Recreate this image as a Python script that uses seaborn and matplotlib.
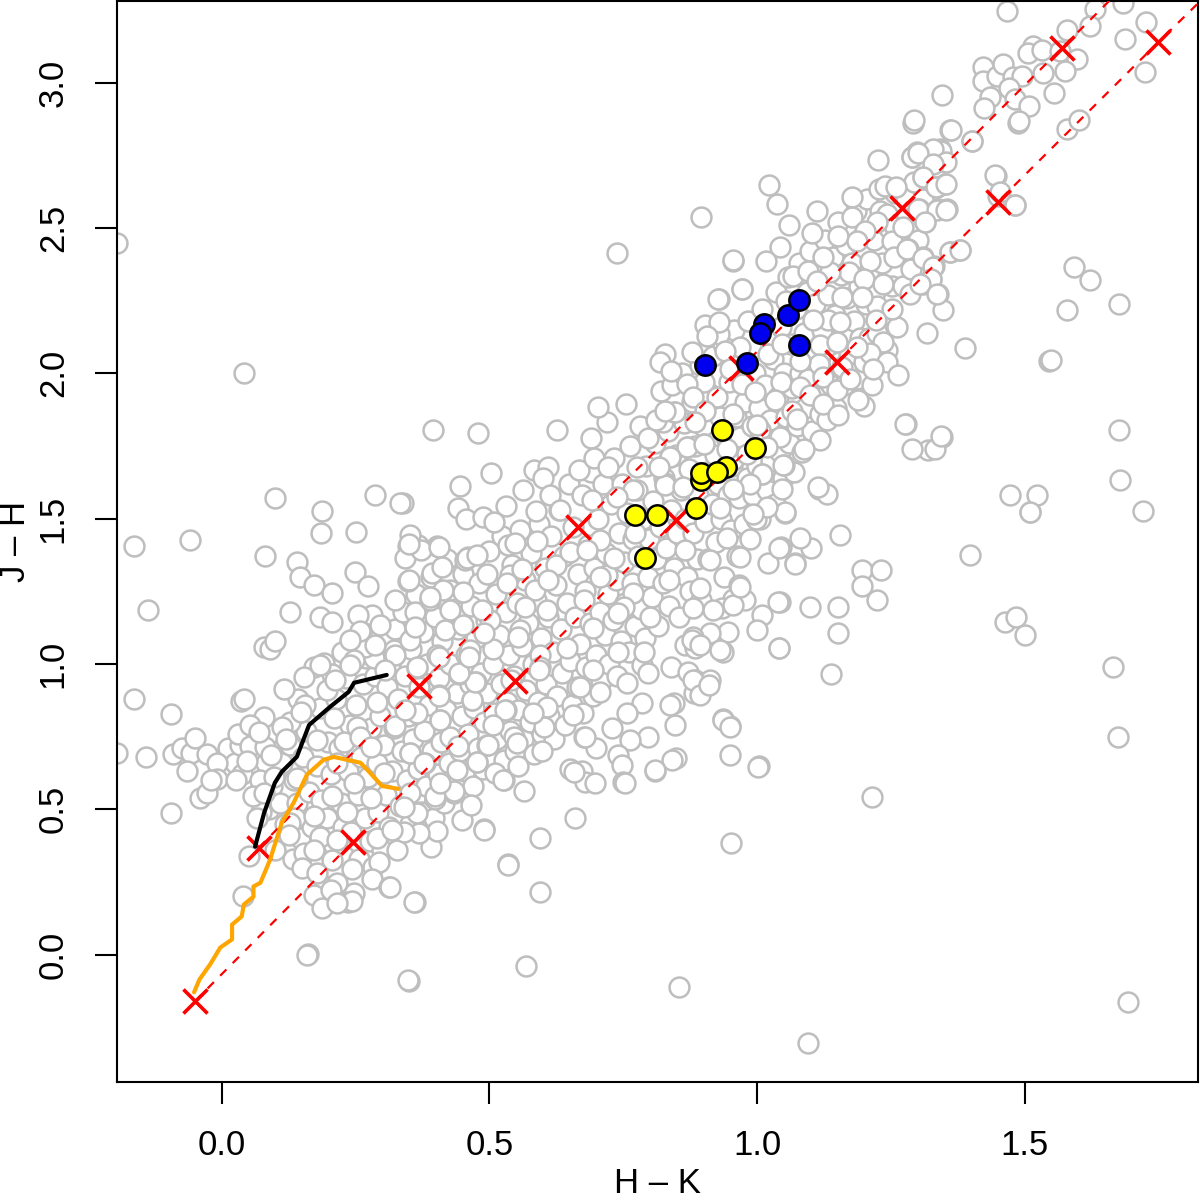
import matplotlib
matplotlib.use("Agg")
import matplotlib.pyplot as plt
import pandas as pd
import seaborn as sns

# Grey field stars (H-K, J-H)
dense_fill = [
(.012,.71),(.024,.66),(.037,.62),(.061,.74),(.083,.66),(.094,.58),(.071,.60),(.105,.70),(.033,.72),(.088,.50),(.074,.49),
(.108,.52),(.118,.45),(.113,.66),(.127,.72),(.134,.60),(.141,.52),(.146,.40),(.132,.33),(.151,.68),(.158,.77),(.163,.56),
(.168,.44),(.174,.31),(.178,.65),(.183,.85),(.186,.53),(.192,.24),(.196,.47),(.199,.73),(.143,.88),(.128,.80),(.136,.47),
(.203,.62),(.207,.38),(.211,.29),(.214,.88),(.219,.71),(.222,.52),(.226,.44),(.229,.34),(.231,.95),(.236,.63),(.239,.79),
(.242,.42),(.246,.21),(.25,.86),(.254,.55),(.257,.33),(.26,.68),(.263,.93),(.267,.47),(.27,1.02),(.273,.61),(.276,.39),
(.279,.78),(.282,.30),(.286,.96),(.289,.66),(.292,.49),(.296,.82),(.299,.36),(.225,1.04),(.262,1.12),(.28,1.17),(.235,.18),
(.303,.72),(.306,.55),(.309,.92),(.312,.44),(.315,1.00),(.318,.63),(.321,.78),(.324,1.12),(.327,.36),(.33,.88),(.333,.51),
(.336,.70),(.339,1.18),(.342,.96),(.345,.60),(.348,.82),(.351,.45),(.354,1.05),(.357,.74),(.36,.54),(.363,1.24),(.366,.64),
(.369,.92),(.372,.49),(.375,1.11),(.378,.77),(.381,.58),(.384,1.00),(.387,.86),(.39,1.30),(.393,.70),(.396,.47),(.399,1.16),
(.403,.62),(.406,.95),(.409,.73),(.412,1.08),(.415,.52),(.418,.84),(.421,1.36),(.424,.66),(.427,1.0),(.43,.78),(.433,1.24),
(.436,.59),(.439,.90),(.442,1.12),(.445,.70),(.448,.82),(.451,1.31),(.454,.63),(.457,1.03),(.46,.76),(.463,.93),(.466,1.2),
(.469,.58),(.472,.85),(.475,1.09),(.478,.71),(.481,1.28),(.484,.97),(.487,.64),(.49,.80),(.493,1.15),(.496,.90),(.499,1.39),
(.503,.68),(.506,1.0),(.509,.83),(.512,1.24),(.515,.74),(.518,1.10),(.521,.93),(.524,1.44),(.527,.67),(.53,1.18),(.533,.87),
(.536,1.03),(.539,.77),(.542,1.34),(.545,.96),(.548,.70),(.551,1.21),(.554,.84),(.557,1.46),(.56,1.06),(.563,.74),(.566,1.29),
(.569,.91),(.572,1.14),(.575,.80),(.578,1.38),(.581,1.0),(.584,.69),(.587,1.22),(.59,.87),(.593,1.48),(.596,1.09),(.599,.76),
(.603,1.33),(.606,.93),(.609,1.16),(.612,.82),(.615,1.44),(.618,1.04),(.621,.74),(.624,1.27),(.627,.89),(.63,1.53),(.633,1.12),
(.636,.97),(.639,1.37),(.642,.79),(.645,1.21),(.648,1.62),(.651,1.01),(.654,.86),(.657,1.47),(.66,1.16),(.663,.92),(.666,1.31),
(.669,1.07),(.672,1.58),(.675,.83),(.678,1.25),(.681,.99),(.684,1.41),(.687,1.14),(.69,1.66),(.693,.89),(.696,1.33),(.699,1.03),
(.703,1.50),(.706,1.18),(.709,.94),(.712,1.62),(.715,1.10),(.718,1.38),(.721,1.24),(.724,1.0),(.727,1.55),(.73,1.15),(.733,1.71),
(.736,1.29),(.739,.96),(.742,1.45),(.745,1.08),(.748,1.62),(.751,1.35),(.754,1.21),(.757,1.52),(.76,1.04),(.763,1.75),(.766,1.28),
(.769,1.43),(.772,1.13),(.775,1.60),(.778,1.37),(.781,1.82),(.784,1.19),(.787,1.50),(.79,1.09),(.793,1.68),(.796,1.30),(.799,1.43),
(.803,1.23),(.806,1.56),(.809,1.76),(.812,1.36),(.815,1.13),(.818,1.47),(.821,1.94),(.824,1.28),(.827,1.64),(.83,1.40),(.833,1.80),
(.836,1.20),(.839,1.53),(.842,1.96),(.845,1.33),(.848,1.72),(.851,1.45),(.854,1.16),(.857,1.60),(.86,2.0),(.863,1.83),(.866,1.50),
(.869,1.30),(.872,1.67),(.875,1.25),(.878,1.90),(.881,1.45),(.884,1.75),(.887,1.36),(.89,1.58),(.893,2.03),(.896,1.22),(.899,1.82),
(.903,1.49),(.906,1.66),(.909,1.36),(.912,1.93),(.915,1.55),(.918,2.06),(.921,1.72),(.924,1.42),(.927,1.62),(.93,1.85),(.933,1.50),
(.936,2.10),(.939,1.30),(.942,1.78),(.945,1.58),(.948,1.97),(.951,1.46),(.954,1.68),(.957,2.15),(.96,1.85),(.963,1.37),(.966,1.57),
(.969,1.78),(.972,2.05),(.975,1.48),(.978,1.90),(.981,1.64),(.984,2.18),(.987,1.43),(.99,1.82),(.993,1.58),(.996,2.0),(.999,1.68),
(1.003,1.88),(1.006,1.50),(1.009,2.22),(1.012,1.76),(1.015,1.96),(1.018,1.60),(1.021,2.12),(1.024,1.84),(1.027,1.70),(1.03,2.05),
(1.033,1.55),(1.036,2.28),(1.039,1.92),(1.042,1.73),(1.045,2.16),(1.048,1.64),(1.051,2.0),(1.054,1.85),(1.057,2.33),(1.06,1.76),
(1.063,2.10),(1.066,1.95),(1.069,1.66),(1.072,2.22),(1.075,1.82),(1.078,2.38),(1.081,2.0),(1.084,1.73),(1.087,2.14),(1.09,1.88),
(1.093,2.28),(1.096,1.98),(1.099,2.42),(1.103,1.80),(1.106,2.08),(1.109,2.24),(1.112,1.92),(1.115,2.36),(1.118,1.86),(1.121,2.15),
(1.124,2.0),(1.127,2.46),(1.13,1.84),(1.133,2.27),(1.136,2.08),(1.139,1.96),(1.142,2.40),(1.145,2.2),(1.148,1.88),(1.151,2.52),
(1.154,2.04),(1.157,2.34),(1.16,2.14),(1.163,1.96),(1.166,2.44),(1.169,2.26),(1.172,2.06),(1.175,2.0),(1.178,2.38),(1.181,2.18),
(1.184,2.56),(1.187,1.98),(1.19,2.30),(1.193,2.12),(1.196,2.47),(1.199,2.04),(1.203,2.24),(1.206,2.60),(1.209,2.12),(1.212,2.36),
(1.215,1.96),(1.218,2.46),(1.221,2.28),(1.225,2.14),(1.23,2.56),(1.234,2.38),(1.238,2.20),(1.243,2.08),(1.247,2.50),(1.252,2.30),
(1.257,2.62),(1.262,2.16),(1.268,2.42),(1.273,2.30),(1.278,2.60),(1.283,2.50),(1.288,2.36),(1.294,2.66),(1.3,2.46),(1.31,2.60),
]
lower_cloud = [
(-.196,.695),(-.165,.878),(-.141,.679),(-.095,.827),(-.096,.486),(.035,.874),(.041,.878),(.078,1.059),(.09,1.053),
(-.091,.689),(-.074,.71),(-.058,.695),(-.051,.746),(-.027,.689),(-.009,.66),(-.066,.63),(-.009,.603),(.027,.599),
(-.04,.538),(-.028,.555),(-.02,.6),(.03,.758),(.052,.718),(.046,.667),(.078,.816),(.053,.79),(.081,.715),(.092,.687),
(.112,.784),(.119,.741),(.069,.767),(.097,.612),(.058,.544),(.078,.555),(.066,.469),(.05,.34),(.1,.36),(.039,.203),
(.116,.914),(.172,.99),(.19,1.004),(.206,.967),(.153,.954),(.156,.858),(.147,.836),(.209,.813),(.197,.91),(.178,.738),
(.228,.733),(.253,.784),(.29,.87),(.259,.75),(.14,.607),(.215,.658),(.172,.475),(.128,.452),(.234,.492),(.206,.544),
(.278,.538),(.246,.59),(.184,.406),(.215,.395),(.125,.412),(.153,.349),(.172,.36),(.293,.32),(.29,.4),(.206,.326),
(.243,.295),(.15,.297),(.178,.28),(.215,.246),(.28,.26),(.313,.234),(.172,.206),(.203,.223),(.243,.183),(.187,.16),
(.215,.177),(.16,.002),(.349,-.09),(.36,.18),(.39,.37),(.489,.433),(.535,.312),(.448,.463),(.465,.515),(.402,.426),
(.368,.418),(.34,.423),(.318,.429),(.365,.486),(.399,.534),(.433,.555),(.352,.555),(.34,.509),(.44,.635),(.477,.664),
(.527,.601),(.511,.624),(.496,.721),(.427,.75),(.408,.807),(.474,.939),(.468,.876),(.443,.967),(.461,1.03),(.53,.841),
(.402,1.03),(.365,.985),(.321,1.048),(.284,1.019),(.268,1.059),(.246,1.013),(.365,.83),(.324,.786),(.352,.692),
(.405,.893),(.38,.658),(.302,.624),(.278,.715),(.54,.945),(.545,.75),
]
middle_band = [
(.249,1.316),(.273,1.268),(.254,1.168),(.258,1.113),(.295,1.134),(.286,1.065),(.239,1.082),(.323,1.22),(.348,1.285),
(.348,1.405),(.342,1.364),(.366,1.409),(.402,1.405),(.393,1.313),(.361,1.179),(.351,1.082),(.389,1.22),(.323,1.031),
(.305,.979),(.239,.997),(.211,.945),(.183,.997),(.426,1.254),(.454,1.357),(.46,1.368),(.417,1.117),(.464,1.048),
(.501,1.151),(.538,1.306),(.585,1.254),(.557,1.117),(.594,1.031),
(.394,1.804),(.478,1.796),(.627,1.804),(.719,1.833),(.702,1.884),(.755,1.893),(.689,1.778),(.502,1.658),(.445,1.611),
(.584,1.669),(.61,1.678),(.6,1.641),(.668,1.669),(.696,1.71),(.722,1.678),(.775,1.678),(.797,1.779),(.838,1.712),
(.825,1.833),(.844,1.867),(.869,1.747),(.9,1.758),(.956,1.701),(1.006,1.804),(1.05,1.684),(1.009,1.655),(.562,1.6),
(.613,1.581),(.531,1.544),(.442,1.535),(.456,1.5),(.487,1.506),(.509,1.489),(.587,1.526),(.632,1.529),(.339,1.554),
(.691,1.563),(.769,1.598),(.828,1.621),(.738,1.575),(.352,1.443),(.372,1.391),(.406,1.403),(.349,1.414),(.458,1.363),
(.476,1.374),(.535,1.409),(.548,1.415),(.588,1.422),(.625,1.34),(.56,1.328),(.495,1.311),(.411,1.334),(.35,1.288),
(.414,1.254),(.451,1.248),(.388,1.231),(.426,1.185),(.486,1.185),(.532,1.277),(.61,1.288),(.651,1.386),(.707,1.426),
(.719,1.306),(.772,1.449),(.866,1.392),(.835,1.288),(.769,1.243),(.676,1.22),(.607,1.185),(.567,1.197),(.752,1.197),
(.894,1.26),(.956,1.225),(.967,1.271),(.912,1.357),(.944,1.432),(.969,1.369),(1.021,1.346),(1.045,1.403),(1.071,1.346),
(1.053,1.518),(.998,1.5),(1.043,1.214),(.881,1.191),(.934,1.191),(1.009,1.168),(.999,1.117),(.945,1.111),(.912,1.105),
(.881,1.091),(.866,1.065),(.884,1.054),(.937,1.042),(1.041,1.056),(.839,.991),(.871,.973),(.884,.945),(.909,.928),
(.883,.899),(.844,.865),(.785,.865),(.847,.79),(.936,.81),(.95,.787),(.797,.75),(.763,.739),(.729,.779),(.676,.75),
(.699,.71),(.741,.687),(.849,.676),(1.004,.649),(.81,.633),(.747,.653),(.75,.595),(.673,.63),(.65,.638),(.679,.595),
(.564,.561),(.598,.7),(.551,.727),(.498,.721),(.442,.716),(.352,.693),(.398,.544),(.433,.561),(.526,.601),(.554,.647),
(.476,.664),(.408,.59),(.377,.658),(.785,.996),(.797,.968),(.741,1.042),(.788,1.042),(.694,1.122),(.645,1.054),
(.595,.991),(.669,.922),(.707,.905),(.757,.933),(.607,.853),(.757,.83),(.601,.784),(.657,.824),(.529,.842),(.507,.79),
(.582,.83),(.467,.876),(.408,.807),(.342,.842),(.405,.888),(.473,.939),(.444,.968),(.364,.991),(.461,1.025),(.507,1.05),
(.554,1.094),(.405,1.025),(.361,1.128),(.451,1.134),(.489,1.105),(.694,.979),(.592,.979),(.741,1.174),(.8,1.162),
(.707,1.3),(.732,1.363),(.682,1.391),
]
upper_band = [
(.895,2.539),(1.022,2.648),(1.038,2.583),(1.059,2.512),(1.112,2.557),(1.043,2.436),(1.017,2.388),(.956,2.388),(.971,2.29),
(.928,2.256),(1.068,2.336),(1.102,2.482),(1.152,2.474),(1.177,2.606),(1.177,2.537),(1.226,2.734),(1.289,2.743),
(1.342,2.772),(1.298,2.76),(1.361,2.837),(1.401,2.798),(1.292,2.863),(1.488,2.863),(1.227,2.634),(1.239,2.646),
(1.26,2.64),(1.311,2.677),(1.336,2.642),(1.351,2.651),(1.351,2.726),(1.339,2.565),(1.302,2.565),(1.314,2.52),(1.355,2.565),
(1.242,2.548),(1.447,2.68),(1.451,2.611),(1.482,2.579),(1.258,2.502),(1.224,2.52),(1.202,2.491),(1.186,2.457),(1.252,2.457),
(1.282,2.428),(1.255,2.399),(1.311,2.399),(1.361,2.417),(1.379,2.425),(1.33,2.371),(1.326,2.325),(1.311,2.308),(1.286,2.273),
(1.339,2.273),(1.347,2.218),(1.317,2.138),(1.389,2.087),(1.545,2.044),(1.211,2.388),(1.171,2.348),(1.136,2.348),(1.096,2.353),
(1.124,2.399),(1.199,2.325),(1.236,2.308),(1.158,2.262),(1.224,2.233),(1.252,2.222),(1.112,2.319),(1.196,2.262),(1.133,2.182),
(1.222,2.182),(1.105,2.182),(1.155,2.176),(1.236,2.107),(1.211,2.069),(1.242,2.038),(1.216,2.016),(1.264,1.993),(1.118,2.096),
(1.149,2.107),(1.115,2.033),(1.186,2.09),(1.158,2.021),(1.08,2.044),(1.021,2.067),(1.046,2.102),(1.055,2.25),(.928,2.136),
(.903,2.165),(.928,2.176),(.906,2.13),(.878,2.073),(.828,2.067),(.819,2.039),(.84,2.008),(.968,2.09),(.94,2.078),(.95,2.016),
(.9,1.97),(.869,1.964),(.88,1.92),(.925,1.918),(.971,1.964),(.996,1.935),(1.044,1.97),(1.08,1.953),(1.124,1.987),(1.149,1.941),
(1.174,1.981),(1.099,1.924),(1.065,1.872),(1.034,1.907),(1.123,1.895),(1.152,1.855),(1.199,1.886),(1.189,1.907),(1.278,1.824),
(1.345,1.781),(1.32,1.735),(1.333,1.741),(1.472,1.58),(1.51,1.523),(1.118,1.769),(1.087,1.741),(1.043,1.781),(.999,1.821),
(.956,1.861),(.903,1.872),(.847,1.867),(.812,1.838),(.828,1.872),(.884,1.832),(.869,1.746),(.837,1.712),(.9,1.758),(.943,1.741),
(.981,1.724),(1.049,1.683),(1.009,1.655),(1.046,1.603),(1.115,1.603),(1.13,1.586),(.987,1.62),(.956,1.603),(.931,1.535),
(1.052,1.523),(1.018,1.54),(.993,1.517),(.828,1.615),(.862,1.609),(.816,1.678),(1.018,1.746),(1.074,1.844),
(1.468,3.248),(1.631,3.253),(1.684,3.276),(1.726,3.21),(1.688,3.15),(1.725,3.036),(1.622,3.196),(1.579,3.181),(1.516,3.127),
(1.507,3.104),(1.532,3.112),(1.566,3.11),(1.597,3.082),(1.575,3.041),(1.534,3.032),(1.554,2.964),(1.423,3.053),(1.423,3.007),
(1.448,3.024),(1.46,3.064),(1.479,3.019),(1.496,3.024),(1.47,2.982),(1.435,2.95),(1.425,2.912),(1.482,2.944),(1.509,2.921),
(1.489,2.867),(1.346,2.959),(1.293,2.873),(1.362,2.839),(1.401,2.799),(1.579,2.841),(1.602,2.873),(1.343,2.766),(1.329,2.772),
(1.289,2.744),(1.301,2.757),(1.354,2.726),(1.329,2.721),(1.311,2.675),(1.335,2.64),(1.354,2.652),(1.445,2.684),(1.454,2.623),
(1.482,2.58),(1.301,2.566),(1.337,2.563),(1.354,2.563),(1.314,2.52),(1.273,2.503),(1.281,2.429),(1.311,2.398),(1.36,2.417),
(1.379,2.425),(1.329,2.366),(1.326,2.326),(1.304,2.308),(1.337,2.274),(1.592,2.366),(1.622,2.32),(1.677,2.24),
]
outliers = [
(-.196,2.45),(-.165,1.405),(-.138,1.185),(-.06,1.425),(.041,2.0),(.10,1.57),(.187,1.525),(.185,1.45),(.25,1.455),(.286,1.58),
(.333,1.555),(.08,1.37),(.14,1.35),(.146,1.30),(.172,1.27),(.206,1.245),(.127,1.18),(.183,1.16),(.206,1.145),(.10,1.08),
(.738,2.415),(.955,2.39),(.972,2.29),(.927,2.255),
(1.579,2.217),(1.55,2.045),(1.677,1.805),(1.678,1.632),(1.722,1.526),(1.523,1.581),(1.51,1.522),(1.464,1.144),(1.484,1.162),
(1.501,1.10),(1.398,1.375),(1.665,.99),(1.675,.749),(1.693,-.165),(1.196,1.323),(1.232,1.323),(1.224,1.22),(1.196,1.268),
(1.151,1.196),(1.151,1.107),(1.155,1.443),(1.138,.966),(1.215,.543),(1.29,1.739),(1.344,1.783),(1.277,1.825),
(1.099,1.196),(1.039,1.213),(1.041,1.055),(1.101,1.399),(1.041,1.399),(1.071,1.344),(.978,1.22),(.955,1.203),(.968,1.265),
(1.08,1.433),(1.114,1.608),(1.002,.646),(.949,.687),(.936,.808),(.949,.784),(.912,.945),(.88,.945),(.893,.893),(.91,.928),
(.841,.67),(.837,.859),(.753,.591),(.678,.749),(.658,.629),(.809,.636),(.697,.591),(.951,.385),(.66,.471),(.49,.43),(.594,.402),
(.535,.309),(.594,.216),(.568,-.041),(.854,-.113),(1.095,-.306),(.348,-.089),(.159,.0),(.359,.179),(.314,.234),
(.879,1.082),(.893,1.066),(.931,1.048),(.918,1.186),
]

# Reddening tracks
upper_track_hk = [.069, .368, .665, .97, 1.271, 1.57, 1.75]
upper_track_jh = [.368, .924, 1.47, 2.02, 2.57, 3.12, 3.45]
lower_track_hk = [-.05, .245, .548, .849, 1.15, 1.45, 1.75, 1.85]
lower_track_jh = [-.16, .388, .94, 1.495, 2.04, 2.59, 3.14, 3.32]
cross_hk = [.069, .368, .665, .97, 1.271, 1.57, -.05, .245, .548, .849, 1.15, 1.45, 1.75]
cross_jh = [.368, .924, 1.47, 2.02, 2.57, 3.12, -.16, .388, .94, 1.495, 2.04, 2.59, 3.14]

# Intrinsic loci
black_hk = [.062, .079, .099, .112, .14, .163, .202, .237, .247, .308]
black_jh = [.371, .488, .591, .629, .68, .79, .852, .904, .935, .962]
orange_hk = [-.052, -.042, -.022, -.003, .019, .019, .037, .041, .059, .059, .072, .09, .10, .112, .134, .159, .19, .209, .259, .277, .299, .33]
orange_jh = [-.130, -.086, -.034, .024, .052, .103, .131, .172, .199, .234, .247, .326, .385, .454, .522, .619, .67, .68, .66, .625, .58, .57]

# Highlighted objects
blue_hk = [.903, .981, 1.013, 1.006, 1.058, 1.079, 1.079]
blue_jh = [2.03, 2.034, 2.17, 2.14, 2.20, 2.254, 2.096]
yellow_hk = [.935, .996, .942, .895, .895, .925, .886, .813, .772, .791]
yellow_jh = [1.804, 1.742, 1.677, 1.632, 1.656, 1.66, 1.536, 1.512, 1.512, 1.364]

x_ticks = [0.0, 0.5, 1.0, 1.5]
y_ticks = [0.0, 0.5, 1.0, 1.5, 2.0, 2.5, 3.0]

sns.set_theme(style="white")
plt.rcParams["font.family"] = ["Liberation Sans", "DejaVu Sans"]

gray = pd.DataFrame(dense_fill + lower_cloud + middle_band + upper_band + outliers, columns=["hk", "jh"])

fig = plt.figure(figsize=(12, 12), dpi=100)
ax = fig.add_axes([117 / 1200, (1200 - 1081.5) / 1200, (1198 - 117) / 1200, 1081 / 1200])

sns.scatterplot(data=gray, x="hk", y="jh", ax=ax, s=205, facecolor="white", edgecolor="#bebebe",
                linewidth=1.8, zorder=2, legend=False)
dash = (0, (4, 4))
sns.lineplot(x=upper_track_hk, y=upper_track_jh, ax=ax, color="red", linewidth=1.6, linestyle=dash,
             estimator=None, sort=False, zorder=3, legend=False)
sns.lineplot(x=lower_track_hk, y=lower_track_jh, ax=ax, color="red", linewidth=1.6, linestyle=dash,
             estimator=None, sort=False, zorder=3, legend=False)
sns.scatterplot(x=cross_hk, y=cross_jh, ax=ax, marker="x", color="red", s=300, linewidth=2.6, zorder=4, legend=False)
sns.scatterplot(x=blue_hk, y=blue_jh, ax=ax, s=215, color="#0000ee", edgecolor="black", linewidth=1.8, zorder=5, legend=False)
sns.scatterplot(x=yellow_hk, y=yellow_jh, ax=ax, s=215, color="#ffff00", edgecolor="black", linewidth=1.8, zorder=5, legend=False)
sns.lineplot(x=black_hk, y=black_jh, ax=ax, color="black", linewidth=3, estimator=None, sort=False, zorder=6, legend=False)
sns.lineplot(x=orange_hk, y=orange_jh, ax=ax, color="orange", linewidth=3, estimator=None, sort=False, zorder=6, legend=False)

ax.set_xlim(-0.196, 1.824)
ax.set_ylim(-0.437, 3.283)
ax.set_xticks(x_ticks)
ax.set_yticks(y_ticks)
ax.set_xticklabels([f"{v:.1f}" for v in x_ticks])
ax.set_yticklabels([f"{v:.1f}" for v in y_ticks], rotation=90, va="center")
ax.tick_params(axis="both", which="major", direction="out", length=16, width=1.5, labelsize=25, color="black",
               labelcolor="black", bottom=True, left=True, pad=18)
for s in ax.spines.values():
    s.set_visible(True)
    s.set_color("black")
    s.set_linewidth(1.5)
ax.grid(False)

ax.set_xlabel("H – K", fontsize=25, color="black", va="baseline")
ax.set_ylabel("J – H", fontsize=25, color="black", va="baseline")
ax.xaxis.set_label_coords(0.5, (1081.5 - 1193) / 1081)
ax.yaxis.set_label_coords((25 - 117) / 1081, 0.5)

fig.savefig("out.png", dpi=100, facecolor="white")
